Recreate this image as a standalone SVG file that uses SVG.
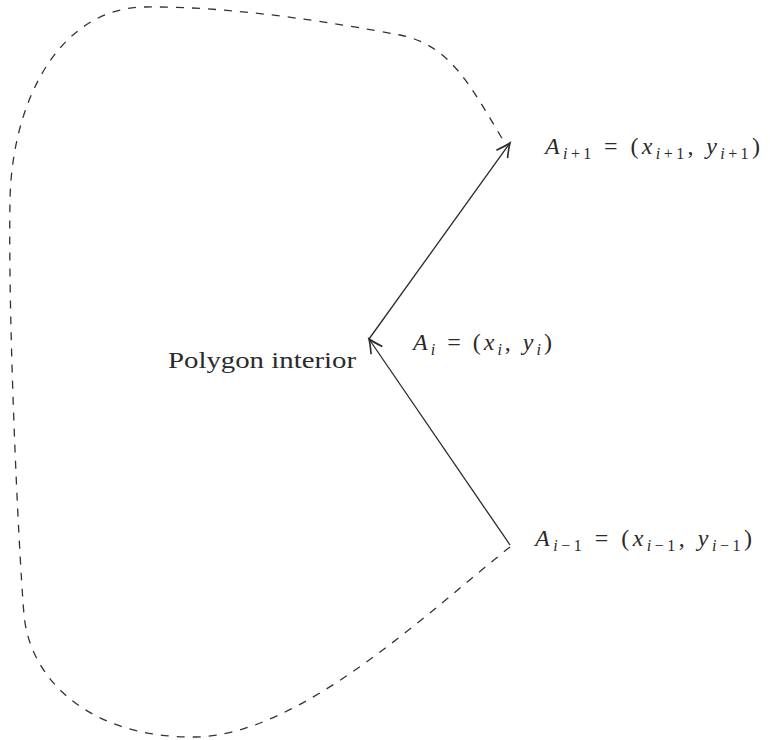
<svg xmlns="http://www.w3.org/2000/svg" width="770" height="740" viewBox="0 0 770 740">
<style>
.bd{fill:none;stroke:#333;stroke-width:1.3;stroke-dasharray:8 8}
.ed{fill:none;stroke:#2a2a2a;stroke-width:1.3}
.t{font-family:"Liberation Serif","DejaVu Serif",serif;font-size:24px;fill:#2a2a2a}
.i{font-style:italic}
.s{font-size:16px}
</style>
<defs>
<marker id="ah" markerUnits="userSpaceOnUse" markerWidth="20" markerHeight="20" viewBox="-12 -8 14 16" refX="0" refY="0" orient="auto">
<path d="M -11 -5.5 Q -4 -1.5 0 0 Q -4 1.5 -11 5.5" fill="none" stroke="#2a2a2a" stroke-width="1.3"/>
</marker>
</defs>
<g id="boundary">
<path class="bd" d="M 510 547 C 430 610, 300 736, 195 737 C 90 738, 30 680, 24 615 C 18 540, 8 320, 10 200 C 12 100, 60 8, 145 7 C 230 6, 330 22, 400 35 C 450 45, 470 85, 503 140"/>
</g>
<g id="connectors">
<line class="ed" x1="510" y1="545" x2="369" y2="339" marker-end="url(#ah)"/>
<line class="ed" x1="369" y1="339" x2="510" y2="143" marker-end="url(#ah)"/>
</g>
<g id="interior">
<text class="t" x="168" y="368" textLength="188" lengthAdjust="spacingAndGlyphs">Polygon interior</text>
</g>
<g id="Aip1">
<text class="t" x="545" y="154" textLength="215" lengthAdjust="spacing"><tspan class="i">A</tspan><tspan class="s" dy="5"><tspan class="i">i</tspan>+1</tspan><tspan dy="-5">  =  (</tspan><tspan class="i">x</tspan><tspan class="s" dy="5"><tspan class="i">i</tspan>+1</tspan><tspan dy="-5">, </tspan><tspan class="i">y</tspan><tspan class="s" dy="5"><tspan class="i">i</tspan>+1</tspan><tspan dy="-5">)</tspan></text>
</g>
<g id="Ai">
<text class="t" x="413" y="350" textLength="139" lengthAdjust="spacing"><tspan class="i">A</tspan><tspan class="s i" dy="5">i</tspan><tspan dy="-5"> = (</tspan><tspan class="i">x</tspan><tspan class="s i" dy="5">i</tspan><tspan dy="-5">, </tspan><tspan class="i">y</tspan><tspan class="s i" dy="5">i</tspan><tspan dy="-5">)</tspan></text>
</g>
<g id="Aim1">
<text class="t" x="535" y="546" textLength="217" lengthAdjust="spacing"><tspan class="i">A</tspan><tspan class="s" dy="5"><tspan class="i">i</tspan>−1</tspan><tspan dy="-5">  =  (</tspan><tspan class="i">x</tspan><tspan class="s" dy="5"><tspan class="i">i</tspan>−1</tspan><tspan dy="-5">, </tspan><tspan class="i">y</tspan><tspan class="s" dy="5"><tspan class="i">i</tspan>−1</tspan><tspan dy="-5">)</tspan></text>
</g>
</svg>
